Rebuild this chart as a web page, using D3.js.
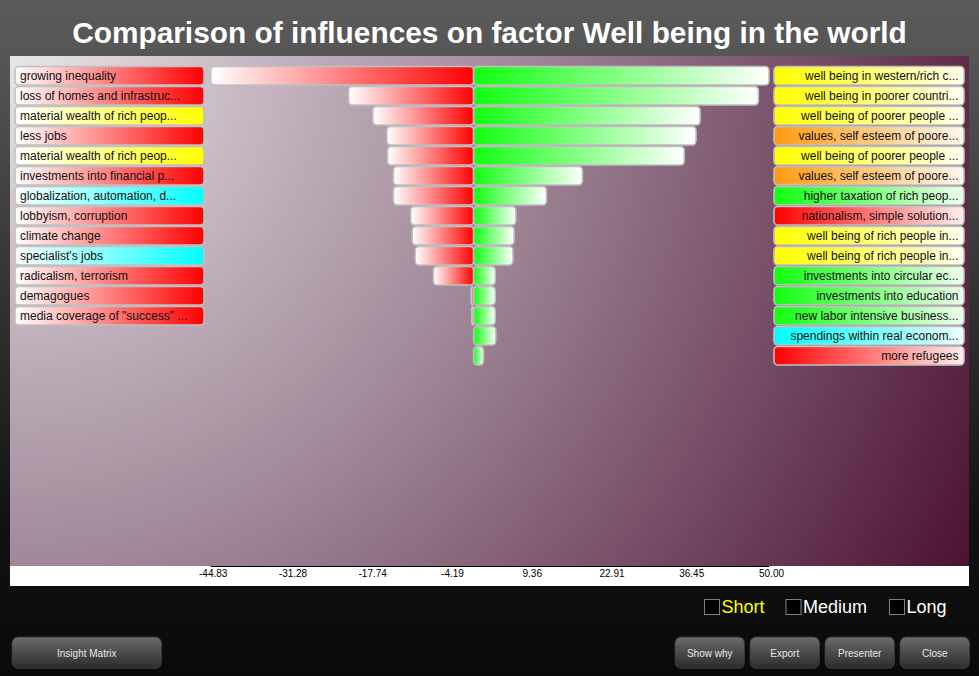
<!DOCTYPE html>
<html>
<head>
<meta charset="utf-8">
<script src="https://cdn.jsdelivr.net/npm/d3@7"></script>
<style>
  html, body { margin: 0; padding: 0; background: #0a0a0a; }
  svg { display: block; }
  text { font-family: "Liberation Sans", Arial, Helvetica, sans-serif; }
</style>
</head>
<body>
<div id="chart"></div>
<script>
// ---------------- data ----------------
const title = "Comparison of influences on factor Well being in the world";

const leftLabels = [
  "growing inequality",
  "loss of homes and infrastruc...",
  "material wealth of rich peop...",
  "less jobs",
  "material wealth of rich peop...",
  "investments into financial p...",
  "globalization, automation, d...",
  "lobbyism, corruption",
  "climate change",
  "specialist's jobs",
  "radicalism, terrorism",
  "demagogues",
  "media coverage of \"success\" ..."
];
const leftColors = ["red","red","yellow","red","yellow","red","cyan","red","red","cyan","red","red","red"];
const leftValues = [-44.83, -21.4, -17.3, -14.9, -14.8, -13.8, -13.8, -10.85, -10.6, -10.1, -7.0, -0.6, -0.5];

const rightLabels = [
  "well being in western/rich c...",
  "well being in poorer countri...",
  "well being of poorer people ...",
  "values, self esteem of poore...",
  "well being of poorer people ...",
  "values, self esteem of poore...",
  "higher taxation of rich peop...",
  "nationalism, simple solution...",
  "well being of rich people in...",
  "well being of rich people in...",
  "investments into circular ec...",
  "investments into education",
  "new labor intensive business...",
  "spendings within real econom...",
  "more refugees"
];
const rightColors = ["yellow","yellow","yellow","orange","yellow","orange","green","red","yellow","yellow","green","green","green","cyan","red"];
const rightValues = [50.0, 48.2, 38.3, 37.6, 35.6, 18.3, 12.2, 7.0, 6.7, 6.5, 3.5, 3.5, 3.5, 3.6, 1.5];

const tickValues = [-44.83, -31.28, -17.74, -4.19, 9.36, 22.91, 36.45, 50.00];
const tickLabels = ["-44.83", "-31.28", "-17.74", "-4.19", "9.36", "22.91", "36.45", "50.00"];

const horizonLabels = ["Short", "Medium", "Long"];
const leftButtons = ["Insight Matrix"];
const rightButtons = ["Show why", "Export", "Presenter", "Close"];

// ---------------- styles ----------------
const palette = {
  red: "#ff0000", yellow: "#ffff00", cyan: "#00ffff",
  orange: "#ff9a10", green: "#11ff11"
};
const W = 979, H = 676;

const svg = d3.select("#chart").append("svg").attr("width", W).attr("height", H);
const defs = svg.append("defs");

function linGrad(id, stops, attrs) {
  const g = defs.append("linearGradient").attr("id", id);
  Object.entries(attrs || {x1: "0", y1: "0", x2: "1", y2: "0"}).forEach(([k, v]) => g.attr(k, v));
  stops.forEach(([o, c]) => g.append("stop").attr("offset", o).attr("stop-color", c));
  return "url(#" + id + ")";
}

// page background
const pageFill = linGrad("pageBg", [[0, "#5a5a5a"], [0.08, "#565656"], [0.78, "#111111"], [1, "#0a0a0a"]],
  {x1: "0", y1: "0", x2: "0", y2: "1"});
svg.append("rect").attr("width", W).attr("height", H).attr("fill", pageFill);

// plot panel background (radial from top-left)
const plot = {x0: 10, x1: 969, y0: 56, y1: 566, stripBottom: 586};
const rg = defs.append("radialGradient").attr("id", "plotBg")
  .attr("gradientUnits", "userSpaceOnUse")
  .attr("cx", plot.x0).attr("cy", plot.y0).attr("fx", plot.x0).attr("fy", plot.y0)
  .attr("r", Math.hypot(plot.x1 - plot.x0, plot.y1 - plot.y0));
[[0, "#e8e6e8"], [0.22, "#c6b8c2"], [0.47, "#a08898"], [0.75, "#744a64"], [1, "#4c1232"]]
  .forEach(([o, c]) => rg.append("stop").attr("offset", o).attr("stop-color", c));
svg.append("rect").attr("x", plot.x0).attr("y", plot.y0)
  .attr("width", plot.x1 - plot.x0).attr("height", plot.y1 - plot.y0)
  .attr("fill", "url(#plotBg)");
// white axis strip
svg.append("rect").attr("x", plot.x0).attr("y", plot.y1)
  .attr("width", plot.x1 - plot.x0).attr("height", plot.stripBottom - plot.y1)
  .attr("fill", "#ffffff");

// title
const titleText = svg.append("text").attr("x", W / 2).attr("y", 43)
  .attr("text-anchor", "middle").attr("fill", "#ffffff")
  .attr("font-weight", "bold").attr("font-size", 29).text(title);
const tw = titleText.node().getComputedTextLength();
if (tw > 0) titleText.attr("font-size", (29 * 835 / tw).toFixed(2));

// ---------------- scales ----------------
const x = d3.scaleLinear().domain([-44.83, 50]).range([210.7, 769]);
const nRows = Math.max(leftLabels.length, rightLabels.length);
const y = d3.scaleLinear().domain([0, nRows]).range([66.5, 66.5 + 20 * nRows]);
const rowH = 18.5;

// gradients for labels & bars
const colorKeys = Object.keys(palette);
colorKeys.forEach(k => {
  linGrad("lg-" + k, [[0, "#ffffff"], [1, palette[k]]]);
  linGrad("rg-" + k, [[0, palette[k]], [1, d3.interpolateRgb(palette[k], "#ffffff")(0.93)]]);
});
const redBarFill = linGrad("redBar", [[0, "#ffffff"], [1, "#ff0000"]]);
const greenBarFill = linGrad("greenBar", [[0, palette.green], [1, "#ffffff"]]);

const borderCol = "#c0c0c0";

// left labels
const leftG = svg.append("g");
leftG.selectAll("rect").data(leftLabels).join("rect")
  .attr("x", 15).attr("y", (d, i) => y(i)).attr("width", 189).attr("height", rowH)
  .attr("rx", 4).attr("fill", (d, i) => "url(#lg-" + leftColors[i] + ")")
  .attr("stroke", borderCol).attr("stroke-width", 1.6);
leftG.selectAll("text").data(leftLabels).join("text")
  .attr("x", 20).attr("y", (d, i) => y(i) + rowH / 2 + 4.2)
  .attr("font-size", 12).attr("fill", "#111").text(d => d);

// right labels
const rightG = svg.append("g");
rightG.selectAll("rect").data(rightLabels).join("rect")
  .attr("x", 774).attr("y", (d, i) => y(i)).attr("width", 190).attr("height", rowH)
  .attr("rx", 4).attr("fill", (d, i) => "url(#rg-" + rightColors[i] + ")")
  .attr("stroke", borderCol).attr("stroke-width", 1.6);
rightG.selectAll("text").data(rightLabels).join("text")
  .attr("x", 958.5).attr("y", (d, i) => y(i) + rowH / 2 + 4.2)
  .attr("text-anchor", "end")
  .attr("font-size", 12).attr("fill", "#111").text(d => d);

// bars
const barG = svg.append("g");
barG.selectAll("rect.neg").data(leftValues).join("rect").attr("class", "neg")
  .attr("x", d => x(d)).attr("y", (d, i) => y(i))
  .attr("width", d => Math.max(0.5, x(0) - 1 - x(d))).attr("height", rowH)
  .attr("rx", 4).attr("fill", redBarFill)
  .attr("stroke", borderCol).attr("stroke-width", 1.6);
barG.selectAll("rect.pos").data(rightValues).join("rect").attr("class", "pos")
  .attr("x", x(0) - 1).attr("y", (d, i) => y(i))
  .attr("width", d => x(d) - x(0) + 1).attr("height", rowH)
  .attr("rx", 4).attr("fill", greenBarFill)
  .attr("stroke", borderCol).attr("stroke-width", 1.6);

// axis
const axisG = svg.append("g").attr("transform", "translate(0," + plot.y1 + ")");
axisG.call(d3.axisBottom(x).tickValues(tickValues).tickSize(0)
  .tickFormat((d, i) => tickLabels[i]));
axisG.select(".domain").attr("stroke", "#000").attr("stroke-width", 1.2)
  .attr("d", "M" + x(tickValues[0]) + ",0.5H" + x(tickValues[tickValues.length - 1]));
axisG.selectAll(".tick text").attr("font-size", 10).attr("fill", "#000")
  .attr("font-family", "Liberation Sans, Arial, sans-serif")
  .attr("dx", 2).attr("dy", 0).attr("y", 11);

// horizon checkboxes
const horizonX = [704, 785.5, 889];
const horizonCol = ["#ffff00", "#ffffff", "#ffffff"];
const hz = svg.append("g");
hz.selectAll("rect").data(horizonLabels).join("rect")
  .attr("x", (d, i) => horizonX[i] + 0.5).attr("y", 599.5).attr("width", 15).attr("height", 15)
  .attr("fill", "#000").attr("stroke", "#808080").attr("stroke-width", 1);
hz.selectAll("text").data(horizonLabels).join("text")
  .attr("x", (d, i) => horizonX[i] + 17.5).attr("y", 613)
  .attr("font-size", 18).attr("fill", (d, i) => horizonCol[i]).text(d => d);

// buttons
const btnFill = linGrad("btnBg", [[0, "#6c6c6c"], [0.5, "#4a4a4a"], [1, "#2c2c2c"]],
  {x1: "0", y1: "0", x2: "0", y2: "1"});
const buttons = [
  {label: leftButtons[0], x: 12, w: 149.5},
  ...rightButtons.map((b, i) => ({label: b, x: 675 + i * 75, w: 69.5}))
];
const bg = svg.append("g").selectAll("g").data(buttons).join("g");
bg.append("rect").attr("x", d => d.x).attr("y", 637).attr("width", d => d.w).attr("height", 31.5)
  .attr("rx", 6).attr("fill", btnFill).attr("stroke", "#3a3a3a").attr("stroke-width", 0.8);
bg.append("text").attr("x", d => d.x + d.w / 2).attr("y", 656.5)
  .attr("text-anchor", "middle").attr("font-size", 10).attr("fill", "#e6e6e6")
  .text(d => d.label);
</script>
</body>
</html>
